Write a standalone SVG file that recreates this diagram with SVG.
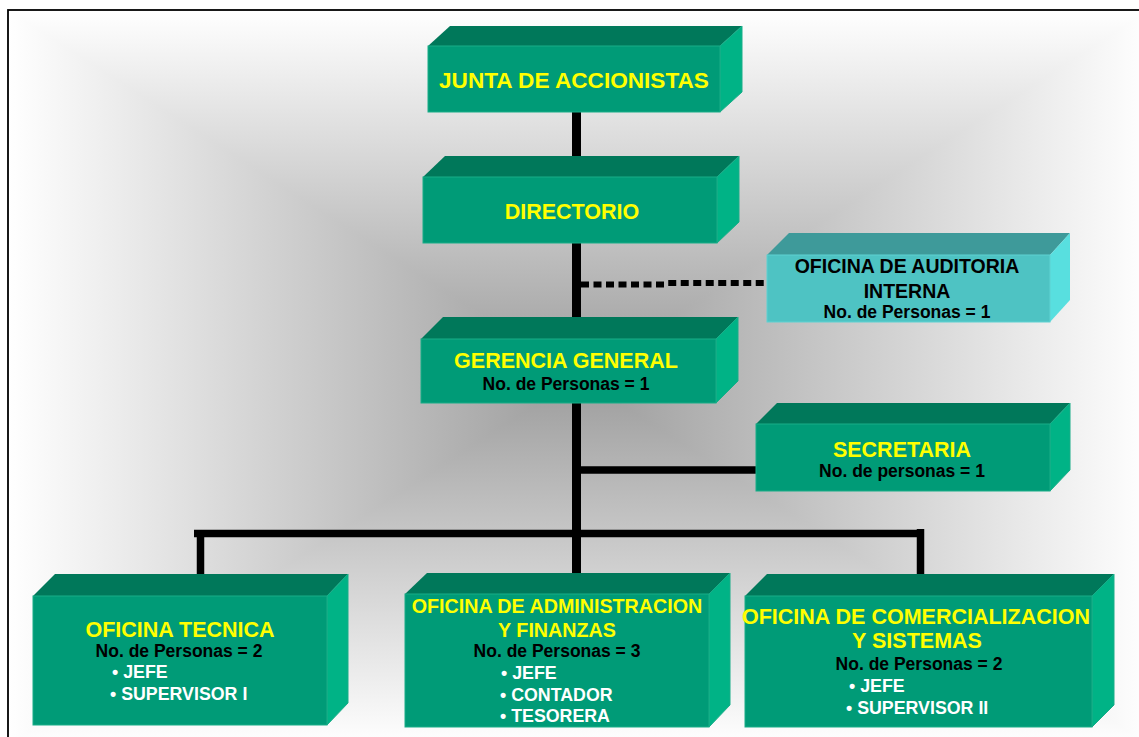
<svg xmlns="http://www.w3.org/2000/svg" width="1139" height="737" viewBox="0 0 1139 737">
<defs>
<linearGradient id="gT" gradientUnits="userSpaceOnUse" x1="0" y1="10" x2="0" y2="377"><stop offset="0" stop-color="#ffffff"/><stop offset="1" stop-color="#9c9c9c"/></linearGradient>
<linearGradient id="gB" gradientUnits="userSpaceOnUse" x1="0" y1="745" x2="0" y2="377"><stop offset="0" stop-color="#ffffff"/><stop offset="1" stop-color="#9c9c9c"/></linearGradient>
<linearGradient id="gL" gradientUnits="userSpaceOnUse" x1="8" y1="0" x2="579" y2="0"><stop offset="0" stop-color="#ffffff"/><stop offset="1" stop-color="#9c9c9c"/></linearGradient>
<linearGradient id="gR" gradientUnits="userSpaceOnUse" x1="1150" y1="0" x2="579" y2="0"><stop offset="0" stop-color="#ffffff"/><stop offset="1" stop-color="#9c9c9c"/></linearGradient>
<style>
.front{fill:#009b77;stroke:#19ad88;stroke-width:1}
.top{fill:#00785a}
.side{fill:#00b386;stroke:#19ad88;stroke-width:1}
.afront{fill:#4ec3c3;stroke:#5fd2d2;stroke-width:1}
.atop{fill:#3e9a9a}
.aside{fill:#58dfdf}
text{font-family:"Liberation Sans",Arial,sans-serif;font-weight:bold}
.t{fill:#ffff00;font-size:21.5px;text-anchor:middle}
.tb{fill:#000000;font-size:19.5px;text-anchor:middle}
.n{fill:#000000;font-size:17.5px;text-anchor:middle}
.b{fill:#ffffff;font-size:17.8px}
.ln{stroke:#000000;fill:none}
</style>
</defs>
<rect x="0" y="0" width="1139" height="737" fill="#ffffff"/>
<g id="background">
<polygon points="8,10 1150,10 579,377" fill="url(#gT)" stroke="url(#gT)" stroke-width="1.2"/>
<polygon points="8,745 1150,745 579,377" fill="url(#gB)" stroke="url(#gB)" stroke-width="1.2"/>
<polygon points="8,10 8,745 579,377" fill="url(#gL)" stroke="url(#gL)" stroke-width="1.2"/>
<polygon points="1150,10 1150,745 579,377" fill="url(#gR)" stroke="url(#gR)" stroke-width="1.2"/>
<rect x="8" y="10" width="1150" height="740" fill="none" stroke="#000000" stroke-width="1.8"/>
</g>
<g id="connectors">
<line class="ln" x1="576.5" y1="110" x2="576.5" y2="578" stroke-width="9"/>
<line class="ln" x1="576" y1="470" x2="757" y2="470" stroke-width="7.5"/>
<path d="M581,284.5 H664 L668,283 H768" fill="none" stroke="#000000" stroke-width="6" stroke-dasharray="8 4.5"/>
<line class="ln" x1="194" y1="533.5" x2="924" y2="533.5" stroke-width="7.5"/>
<line class="ln" x1="200.5" y1="530" x2="200.5" y2="577" stroke-width="7.5"/>
<line class="ln" x1="920.5" y1="529" x2="920.5" y2="576" stroke-width="7.5"/>
</g>
<g id="junta">
<polygon class="top" points="428,46 450,26 742,26 720,46"/>
<polygon class="side" points="720,46 742,26 742,92 720,112"/>
<rect class="front" x="428" y="46" width="292" height="66"/>
<text class="t" x="574" y="88" style="font-size:22.6px">JUNTA DE ACCIONISTAS</text>
</g>
<g id="directorio">
<polygon class="top" points="423,177 445,156 739,156 717,177"/>
<polygon class="side" points="717,177 739,156 739,222 717,243"/>
<rect class="front" x="423" y="177" width="294" height="66"/>
<text class="t" x="572" y="219">DIRECTORIO</text>
</g>
<g id="auditoria">
<polygon class="atop" points="767,255 789,233 1070,233 1050,255"/>
<polygon class="aside" points="1050,255 1070,233 1070,300 1050,322"/>
<rect class="afront" x="767" y="255" width="283" height="67"/>
<text class="tb" x="907" y="273">OFICINA DE AUDITORIA</text>
<text class="tb" x="907" y="298">INTERNA</text>
<text class="n" x="907" y="318">No. de Personas = 1</text>
</g>
<g id="gerencia">
<polygon class="top" points="421,339 443,317 738,317 716,339"/>
<polygon class="side" points="716,339 738,317 738,381 716,403"/>
<rect class="front" x="421" y="339" width="295" height="64"/>
<text class="t" x="566" y="368">GERENCIA GENERAL</text>
<text class="n" x="566" y="390">No. de Personas = 1</text>
</g>
<g id="secretaria">
<polygon class="top" points="756,424 777,403 1070,403 1050,424"/>
<polygon class="side" points="1050,424 1070,403 1070,470 1050,491"/>
<rect class="front" x="756" y="424" width="294" height="67"/>
<text class="t" x="902" y="457">SECRETARIA</text>
<text class="n" x="902" y="477">No. de personas = 1</text>
</g>
<g id="tecnica">
<polygon class="top" points="33,596 55,574 348,574 327,596"/>
<polygon class="side" points="327,596 348,574 348,703 327,725"/>
<rect class="front" x="33" y="596" width="294" height="129"/>
<text class="t" x="180" y="637">OFICINA TECNICA</text>
<text class="n" x="179" y="657">No. de Personas = 2</text>
<text class="b" x="112" y="678">• JEFE</text>
<text class="b" x="110" y="700">• SUPERVISOR I</text>
</g>
<g id="administracion">
<polygon class="top" points="405,594 427,573 730,573 709,594"/>
<polygon class="side" points="709,594 730,573 730,705 709,727"/>
<rect class="front" x="405" y="594" width="304" height="133"/>
<text class="t" x="557" y="613" style="font-size:19.7px">OFICINA DE ADMINISTRACION</text>
<text class="t" x="557" y="637" style="font-size:19.7px">Y FINANZAS</text>
<text class="n" x="557" y="657">No. de Personas = 3</text>
<text class="b" x="501" y="679">• JEFE</text>
<text class="b" x="500" y="701">• CONTADOR</text>
<text class="b" x="500" y="722">• TESORERA</text>
</g>
<g id="comercializacion">
<polygon class="top" points="745,596 767,574 1114,574 1092,596"/>
<polygon class="side" points="1092,596 1114,574 1114,705 1092,727"/>
<rect class="front" x="745" y="596" width="347" height="131"/>
<text class="t" x="916" y="624">OFICINA DE COMERCIALIZACION</text>
<text class="t" x="917" y="648">Y SISTEMAS</text>
<text class="n" x="919" y="670">No. de Personas = 2</text>
<text class="b" x="849" y="692">• JEFE</text>
<text class="b" x="846" y="714">• SUPERVISOR II</text>
</g>
</svg>
